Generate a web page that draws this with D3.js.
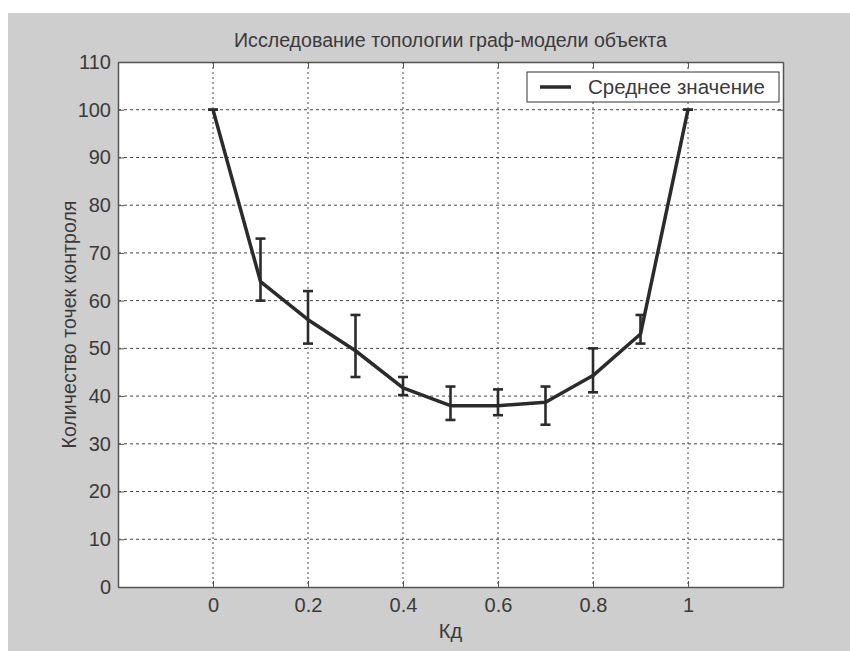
<!DOCTYPE html>
<html><head><meta charset="utf-8">
<script src="https://cdn.jsdelivr.net/npm/d3@7"></script>
<style>body{margin:0;background:#fff}svg{display:block}text{font-family:"Liberation Sans",Arial,sans-serif;fill:#3a3a3a}</style>
</head><body><svg id="c" width="850" height="651"></svg>
<script>
const kd = [0, 0.1, 0.2, 0.3, 0.4, 0.5, 0.6, 0.7, 0.8, 0.9, 1.0];
const meanVal = [100, 64, 56, 49.5, 41.7, 38, 38, 38.7, 44.3, 53, 100];
const errLow = [100, 60, 51, 44, 40.2, 35, 36, 34, 40.8, 51, 100];
const errHigh = [100, 73, 62, 57, 44, 42, 41.4, 42, 50, 57, 100];
const xTicks = [0, 0.2, 0.4, 0.6, 0.8, 1];
const yTicks = [0, 10, 20, 30, 40, 50, 60, 70, 80, 90, 100, 110];
const titleText = "Исследование топологии граф-модели объекта";
const xLabel = "Кд";
const yLabel = "Количество точек контроля";
const legendLabel = "Среднее значение";

const svg = d3.select("#c");
const L = 118, R = 783, T = 62, B = 587;
const x = d3.scaleLinear().domain([-0.2, 1.2]).range([L, R]);
const y = d3.scaleLinear().domain([0, 110]).range([B, T]);
const ink = "#2b2b2b";
const fs = 20;

svg.append("rect").attr("x", 8).attr("y", 13).attr("width", 842).attr("height", 638).attr("fill", "#cecece");
svg.append("rect").attr("x", L).attr("y", T).attr("width", R - L).attr("height", B - T).attr("fill", "#fff");

// grid
const g = svg.append("g");
g.selectAll(".gx").data(xTicks).join("line")
  .attr("x1", d => x(d)).attr("x2", d => x(d)).attr("y1", T).attr("y2", B)
  .attr("stroke", "#444").attr("stroke-width", 1).attr("stroke-dasharray", "2,3");
g.selectAll(".gy").data(yTicks.filter(d => d > 0 && d < 110)).join("line")
  .attr("y1", d => y(d)).attr("y2", d => y(d)).attr("x1", L).attr("x2", R)
  .attr("stroke", "#444").attr("stroke-width", 1).attr("stroke-dasharray", "3,3");

// axes
const ax = svg.append("g").attr("transform", `translate(0,${B})`)
  .call(d3.axisBottom(x).tickValues(xTicks).tickFormat(d3.format("")).tickSizeInner(-6).tickSizeOuter(0).tickPadding(11));
const ay = svg.append("g").attr("transform", `translate(${L},0)`)
  .call(d3.axisLeft(y).tickValues(yTicks).tickSizeInner(-6).tickSizeOuter(0).tickPadding(7));
const axT = svg.append("g").attr("transform", `translate(0,${T})`)
  .call(d3.axisTop(x).tickValues(xTicks).tickFormat("").tickSizeInner(-6).tickSizeOuter(0));
const ayR = svg.append("g").attr("transform", `translate(${R},0)`)
  .call(d3.axisRight(y).tickValues(yTicks).tickFormat("").tickSizeInner(-6).tickSizeOuter(0));
[ax, ay, axT, ayR].forEach(a => {
  a.select(".domain").attr("stroke", "#555").attr("stroke-width", 1.5);
  a.selectAll(".tick line").attr("stroke", "#555");
  a.selectAll(".tick text").attr("font-size", fs).attr("fill", "#3a3a3a").attr("font-family", "Liberation Sans, Arial, sans-serif");
});

// line
svg.append("path").datum(kd.map((k, i) => [k, meanVal[i]]))
  .attr("d", d3.line().x(d => x(d[0])).y(d => y(d[1])))
  .attr("fill", "none").attr("stroke", ink).attr("stroke-width", 3.5).attr("stroke-linejoin", "round");

// error bars
const eb = svg.append("g").attr("stroke", ink).attr("stroke-width", 2.6);
kd.forEach((k, i) => {
  const cx = x(k), cw = 5;
  eb.append("line").attr("x1", cx).attr("x2", cx).attr("y1", y(errLow[i])).attr("y2", y(errHigh[i]));
  eb.append("line").attr("x1", cx - cw).attr("x2", cx + cw).attr("y1", y(errLow[i])).attr("y2", y(errLow[i]));
  eb.append("line").attr("x1", cx - cw).attr("x2", cx + cw).attr("y1", y(errHigh[i])).attr("y2", y(errHigh[i]));
});

// titles
svg.append("text").attr("x", (L + R) / 2).attr("y", 47).attr("text-anchor", "middle").attr("font-size", 19.6).text(titleText);
svg.append("text").attr("x", (L + R) / 2).attr("y", 638).attr("text-anchor", "middle").attr("font-size", fs).text(xLabel);
svg.append("text").attr("transform", `translate(76,${(T + B) / 2}) rotate(-90)`).attr("text-anchor", "middle").attr("font-size", 19.6).text(yLabel);

// legend
const lg = svg.append("g");
lg.append("rect").attr("x", 527).attr("y", 72).attr("width", 252).attr("height", 30).attr("fill", "#fff").attr("stroke", "#333").attr("stroke-width", 1);
lg.append("line").attr("x1", 540).attr("x2", 571).attr("y1", 87).attr("y2", 87).attr("stroke", ink).attr("stroke-width", 3.5);
lg.append("text").attr("x", 588).attr("y", 94).attr("font-size", 20.5).text(legendLabel);
</script></body></html>
